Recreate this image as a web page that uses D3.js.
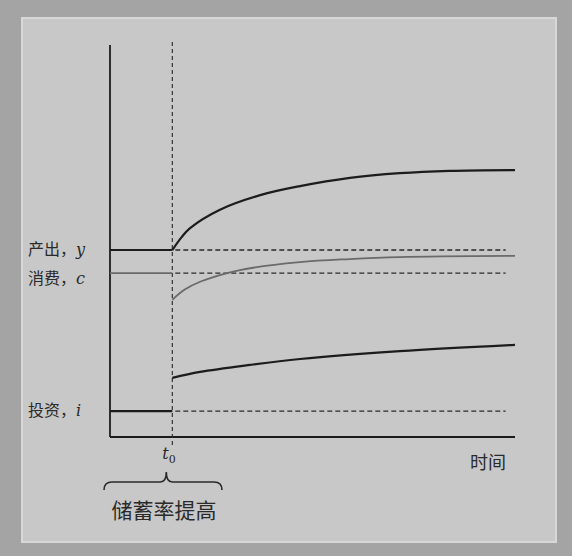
<!DOCTYPE html>
<html><head><meta charset="utf-8">
<script src="https://cdn.jsdelivr.net/npm/d3@7"></script>
<style>html,body{margin:0;padding:0;background:#a4a4a4;}svg{display:block;}</style>
</head><body>
<svg id="c" width="572" height="556"></svg>
<script>
// ---- data ----
const t0 = 2;
const timeDomain = [0, 13];
const valueDomain = [0, 100];
const dashEnd = 12.7;
const seriesNames = ["产出，", "消费，", "投资，"];
const seriesSymbols = ["y", "c", "i"];
const oldLevels = [47.7, 41.8, 6.6];
const outputT = [2, 2.3, 2.57, 3.53, 4.82, 6.1, 7.7, 9.3, 10.9, 13];
const outputV = [47.7, 51.0, 53.3, 58.0, 61.7, 64.0, 66.1, 67.3, 67.9, 68.1];
const consT = [2, 2.4, 2.89, 4.17, 6.1, 7.7, 9.3, 13];
const consV = [35.0, 37.6, 39.6, 42.6, 44.6, 45.4, 45.9, 46.2];
const invT = [2, 2.89, 4.5, 6.1, 9.3, 13];
const invV = [15.1, 16.6, 18.4, 19.9, 21.9, 23.5];
const xLabel = "时间";
const braceLabel = "储蓄率提高";

// ---- drawing ----
const svg = d3.select("#c");
svg.append("rect").attr("x", 22).attr("y", 18).attr("width", 534).attr("height", 524)
  .attr("fill", "#c8c8c8").attr("stroke", "#d8d8d8").attr("stroke-width", 2);

const x = d3.scaleLinear().domain(timeDomain).range([110, 515]);
const y = d3.scaleLinear().domain(valueDomain).range([437, 45]);
const ink = "#1c1c1c";

// axes
svg.append("line").attr("x1", x(0)).attr("x2", x(0)).attr("y1", 45).attr("y2", y(0))
  .attr("stroke", ink).attr("stroke-width", 1.8);
svg.append("line").attr("x1", x(0)).attr("x2", x(13)).attr("y1", y(0)).attr("y2", y(0))
  .attr("stroke", ink).attr("stroke-width", 1.8);

// vertical dashed at t0
svg.append("line").attr("x1", x(t0)).attr("x2", x(t0)).attr("y1", 42).attr("y2", y(0) + 8)
  .attr("stroke", "#333").attr("stroke-width", 1.2).attr("stroke-dasharray", "4,3");

const colors = [ink, "#6a6a6a", ink];
const widths = [2.2, 1.8, 2.2];

// old levels: solid before t0, dashed after
oldLevels.forEach((v, k) => {
  svg.append("line").attr("x1", x(0)).attr("x2", x(t0)).attr("y1", y(v)).attr("y2", y(v))
    .attr("stroke", colors[k]).attr("stroke-width", widths[k]);
  svg.append("line").attr("x1", x(t0) + 3).attr("x2", x(dashEnd)).attr("y1", y(v)).attr("y2", y(v))
    .attr("stroke", "#2a2a2a").attr("stroke-width", 1.3).attr("stroke-dasharray", "5,3");
});

const line = d3.line().x(d => x(d[0])).y(d => y(d[1])).curve(d3.curveCatmullRom.alpha(0.5));
const paths = [[outputT, outputV], [consT, consV], [invT, invV]];
paths.forEach(([ts, vs], k) => {
  svg.append("path").datum(ts.map((t, i) => [t, vs[i]])).attr("d", line)
    .attr("fill", "none").attr("stroke", colors[k]).attr("stroke-width", widths[k]);
});

// labels
const font = "'Noto Sans CJK SC', sans-serif";
oldLevels.forEach((v, k) => {
  const off = k === 1 ? 6 : 0;
  const tx = svg.append("text").attr("x", 28).attr("y", y(v) + 5 + off)
    .attr("font-family", font).attr("font-size", 16).attr("fill", "#2a2a2a");
  tx.append("tspan").text(seriesNames[k]);
  tx.append("tspan").attr("font-family", "'DejaVu Serif', serif").attr("font-style", "italic").text(seriesSymbols[k]);
});

const tl = svg.append("text").attr("x", x(t0) - 10).attr("y", y(0) + 22)
  .attr("font-family", "'DejaVu Serif', serif").attr("font-size", 16).attr("fill", "#2a2a2a");
tl.append("tspan").attr("font-style", "italic").text("t");
tl.append("tspan").attr("font-size", 11).attr("dy", 4).text("0");

svg.append("text").attr("x", 470).attr("y", 469).attr("font-family", font)
  .attr("font-size", 18).attr("fill", "#2a2a2a").text(xLabel);

// brace
const bx0 = 104, bx1 = 222, bm = x(t0) - 6, by = 482;
svg.append("path").attr("d",
  `M${bx0},${by + 8} Q${bx0},${by} ${bx0 + 8},${by} L${bm - 6},${by} Q${bm},${by} ${bm},${by - 10} ` +
  `Q${bm},${by} ${bm + 6},${by} L${bx1 - 8},${by} Q${bx1},${by} ${bx1},${by + 8}`)
  .attr("fill", "none").attr("stroke", "#2a2a2a").attr("stroke-width", 1.6);

svg.append("text").attr("x", 164).attr("y", 518).attr("text-anchor", "middle")
  .attr("font-family", font).attr("font-size", 21).attr("fill", "#2a2a2a").text(braceLabel);
</script>
</body></html>
